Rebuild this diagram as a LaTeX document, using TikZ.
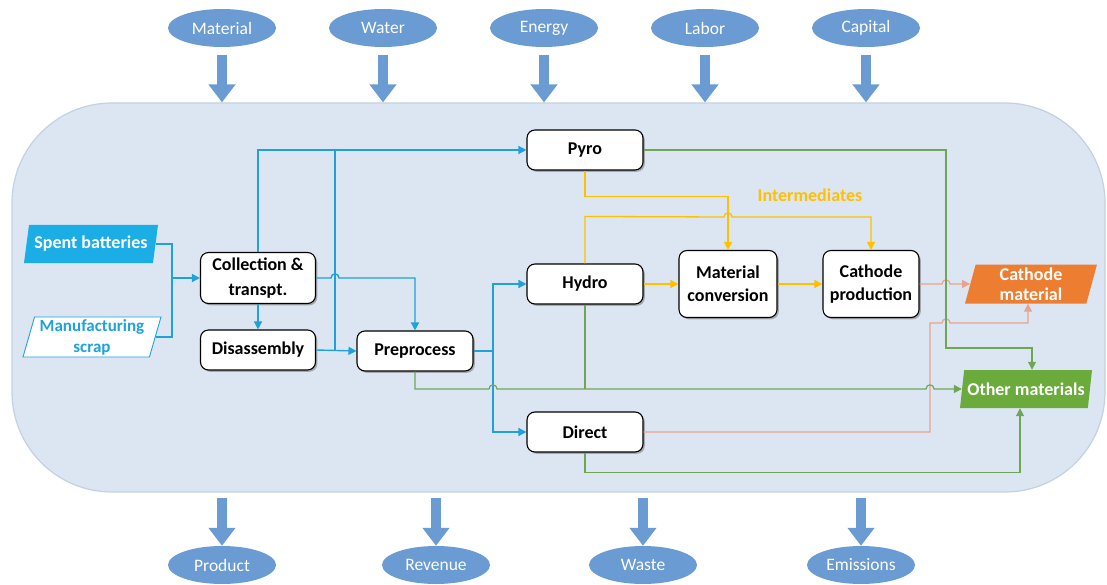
\documentclass[tikz,border=0pt]{standalone}
\usepackage{fontspec}
\setmainfont{Carlito}
\usetikzlibrary{shapes.geometric,shadows,arrows.meta,calc}
\definecolor{bgfill}{HTML}{DCE6F2}
\definecolor{bgline}{HTML}{C3D1E2}
\definecolor{ellblue}{HTML}{6A9BD2}
\definecolor{cblue}{HTML}{1FA2DC}
\definecolor{cyel}{HTML}{FFC000}
\definecolor{corg}{HTML}{E6A38E}
\definecolor{cgrn}{HTML}{6FA656}
\definecolor{orgfill}{HTML}{ED7D31}
\definecolor{grnfill}{HTML}{6AAB3B}
\definecolor{spentfill}{HTML}{1AADE6}
\tikzset{
  proc/.style={draw=black, line width=1.1pt, rounded corners=8pt, fill=white,
    drop shadow={shadow xshift=1.8pt, shadow yshift=-1.8pt, opacity=0.6},
    font=\fontsize{18}{23}\selectfont\bfseries, align=center,
    minimum width=116pt, minimum height=40pt, inner sep=2pt},
  ell/.style={ellipse, fill=ellblue, text=white, minimum width=108pt,
    minimum height=38pt, inner sep=0pt, font=\fontsize{17.5}{19}\selectfont},
  para/.style={trapezium, trapezium left angle=72, trapezium right angle=108,
    trapezium stretches body, minimum height=38pt, inner sep=0pt, align=center,
    font=\fontsize{18}{20}\selectfont\bfseries},
  bigarr/.style={ellblue, line width=10pt, -{Triangle[width=26pt,length=18pt]}},
  arr/.style={-{Triangle[width=8pt,length=8pt]}},
  bl/.style={cblue, line width=1.4pt},
  yl/.style={cyel, line width=1.3pt},
  og/.style={corg, line width=1.2pt},
  gr/.style={cgrn, line width=1.2pt}
}
\begin{document}
\begin{tikzpicture}[x=1pt,y=-1pt]
\useasboundingbox (0,0) rectangle (1107,585);
% system boundary
\node[draw=bgline, line width=1.2pt, fill=bgfill, rounded corners=100pt,
  minimum width=1093pt, minimum height=389pt, inner sep=0pt] (sys) at (558.5,297.5) {};
% top ellipses
\node[ell] (mat) at (222,28) {Material};
\node[ell] (wat) at (383,28) {Water};
\node[ell] (ene) at (544,28) {Energy};
\node[ell] (lab) at (705,28) {Labor};
\node[ell] (cap) at (866,28) {Capital};
% bottom ellipses
\node[ell] (prod) at (222,565) {Product};
\node[ell] (rev) at (436,565) {Revenue};
\node[ell] (was) at (643,565) {Waste};
\node[ell] (emi) at (861,565) {Emissions};
% block arrows
\foreach \n in {mat,wat,ene,lab,cap}{
  \draw[bigarr] ($(\n.south)+(0,8)$) -- (\n.south |- sys.north);
}
\foreach \n in {prod,rev,was,emi}{
  \draw[bigarr] ($(sys.south -| \n.north)+(0,5)$) -- (\n.north);
}
% process nodes
\node[proc] (pyro) at (585,150) {Pyro};
\node[proc, minimum height=51pt, minimum width=115pt, font=\fontsize{18}{25}\selectfont\bfseries] (collect) at (258,278) {Collection \&\\transpt.};
\node[proc, minimum width=115pt] (dis) at (258,350) {Disassembly};
\node[proc] (pre) at (415,351) {Preprocess};
\node[proc] (hydro) at (585,284) {Hydro};
\node[proc, minimum width=98pt, minimum height=67pt] (matconv) at (728,284) {Material\\conversion};
\node[proc, minimum width=96pt, minimum height=67pt] (cathprod) at (871,284) {Cathode\\production};
\node[proc] (direct) at (585,432) {Direct};
% parallelograms
\node[para, fill=spentfill, text=white, minimum width=134pt] (spent) at (91,244) {Spent batteries};
\node[para, fill=white, draw=cblue, line width=0.9pt, text=cblue, minimum width=138pt, minimum height=40pt, font=\fontsize{17}{21}\selectfont\bfseries] (scrap) at (92,337) {Manufacturing\\scrap};
\node[para, fill=orgfill, text=white, minimum width=132pt, minimum height=39pt] (cathmat) at (1031,284) {Cathode\\material};
\node[para, fill=grnfill, text=white, minimum width=132pt] (othmat) at (1026,389) {Other materials};
\node[text=cyel, font=\fontsize{18}{20}\selectfont\bfseries] (inter) at (810,195) {Intermediates};
% blue connectors
\coordinate (j1) at (172,278);
\coordinate (j2) at (335,350);
\coordinate (j3) at (493,351);
\draw[bl] (spent.east) -| (j1);
\draw[bl] (scrap.east) -| (j1);
\draw[bl,arr] (j1) -- (collect.west);
\draw[bl,arr] (collect.north) |- (pyro.west);
\draw[bl,arr] (collect.south) -- (dis.north);
\draw[bl,arr] (dis.east) -- (pre.west);
\draw[bl] (j2) -- (j2 |- pyro.west);
\draw[bl,arr] (collect.east) -- (331,278) .. controls (331,272.5) and (339,272.5) .. (339,278) -| (pre.north);
\draw[bl] (pre.east) -- (j3);
\draw[bl,arr] (j3) |- (hydro.west);
\draw[bl,arr] (j3) |- (direct.west);
% yellow connectors
\draw[yl,arr] (pyro.south) -- ++(0,26) -| (matconv.north);
\draw[yl,arr] (hydro.north) -- ++(0,-47) -- (724,217) .. controls (724,211.5) and (732,211.5) .. (732,217) -| (cathprod.north);
\draw[yl,arr] (hydro.east) -- (matconv.west);
\draw[yl,arr] (matconv.east) -- (cathprod.west);
% orange connectors
\draw[og,arr] (cathprod.east) -- (942,284) .. controls (942,278.5) and (950,278.5) .. (950,284) -- (cathmat.west);
\draw[og,arr] (direct.east) -| (930,323) -- (942,323) .. controls (942,317.5) and (950,317.5) .. (950,323) -| ([xshift=-3pt]cathmat.south);
% green connectors
\draw[gr,arr] (pyro.east) -| (946,348) -| ([xshift=6pt]othmat.north);
\draw[gr] (hydro.south) -- (hydro.south |- othmat.west);
\draw[gr,arr] (pre.south) |- (489,389) .. controls (489,383.5) and (497,383.5) .. (497,389) -- (926,389) .. controls (926,383.5) and (934,383.5) .. (934,389) -- (othmat.west);
\draw[gr,arr] (direct.south) -- ++(0,20) -| ([xshift=-6pt]othmat.south);
\end{tikzpicture}
\end{document}
